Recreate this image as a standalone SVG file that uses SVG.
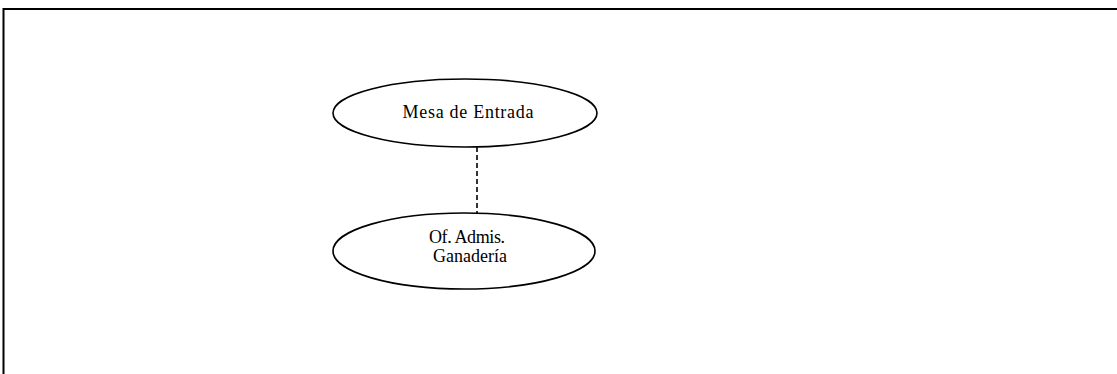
<svg xmlns="http://www.w3.org/2000/svg" width="1117" height="374" viewBox="0 0 1117 374">
<style>
.node{fill:#fff;stroke:#000;stroke-width:1.6}
.lbl{font-family:"Liberation Serif",serif;font-size:18px;fill:#000;text-anchor:middle}
.conn{stroke:#000;stroke-width:1.6;stroke-dasharray:5,3;fill:none}
</style>
<rect width="1117" height="374" fill="#fff"/>
<path d="M3.5,374 V9 H1117" fill="none" stroke="#000" stroke-width="2"/>
<g id="connectors">
<line class="conn" x1="477" y1="147" x2="477" y2="213"/>
</g>
<g id="mesa">
<ellipse class="node" cx="465" cy="113" rx="132" ry="34"/>
<text class="lbl" x="468" y="118" textLength="131" lengthAdjust="spacing">Mesa de Entrada</text>
</g>
<g id="ofadmis">
<ellipse class="node" cx="464" cy="251" rx="131" ry="38"/>
<text class="lbl" x="467" y="243" textLength="76" lengthAdjust="spacing">Of. Admis.</text>
<text class="lbl" x="470" y="262">Ganadería</text>
</g>
</svg>
